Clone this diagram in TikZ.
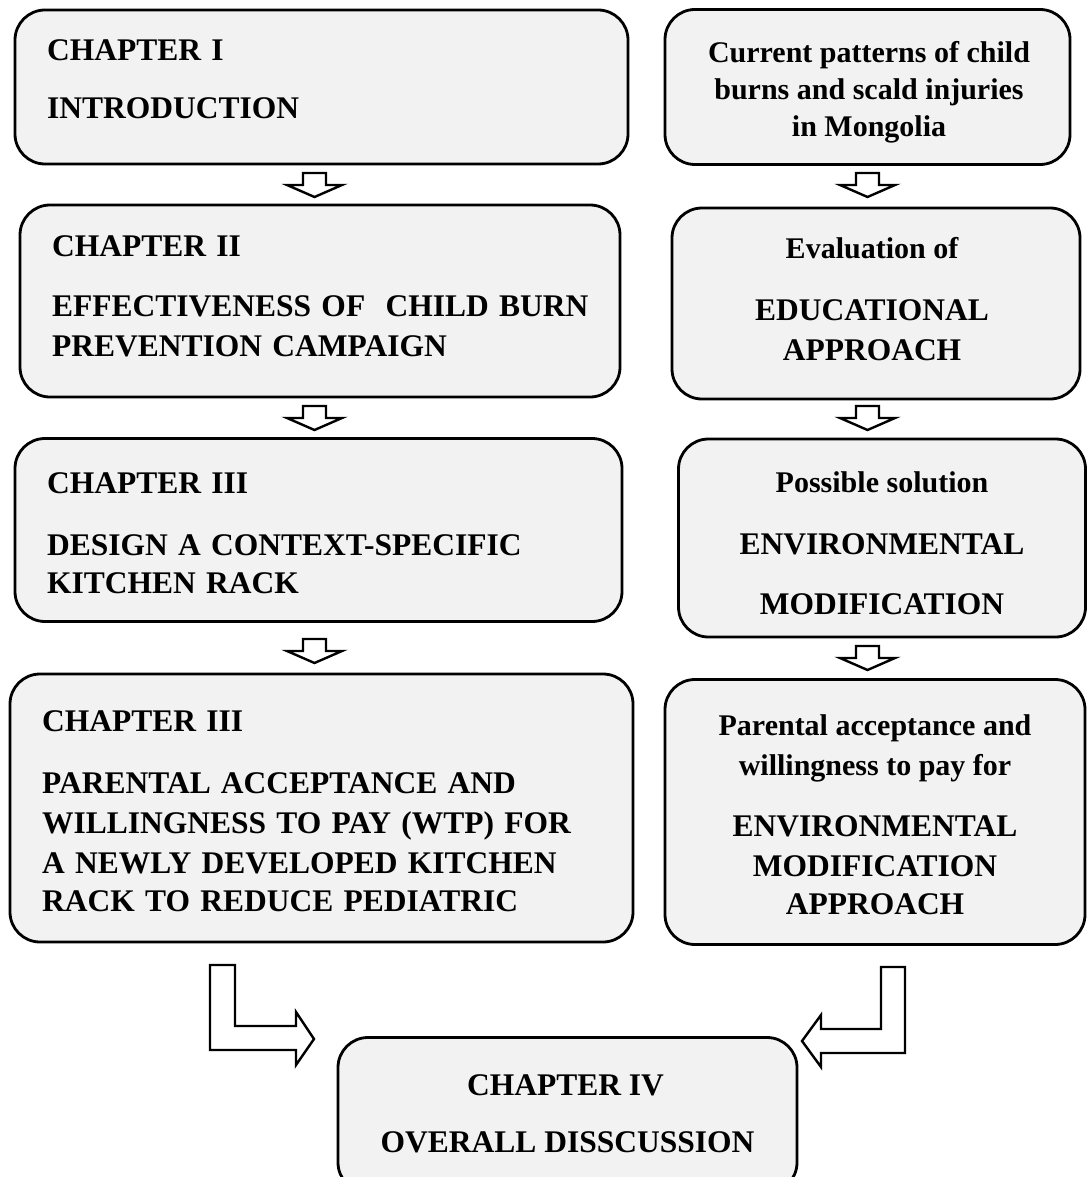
\documentclass[tikz,border=0pt]{standalone}
\usepackage{fontspec}
\setmainfont{Liberation Serif}
\newfontfamily\widefont[WordSpace=1.3]{Liberation Serif}
\usetikzlibrary{calc}
\definecolor{boxfill}{HTML}{F2F2F2}
\tikzset{
  box/.style={draw=black, line width=2.8pt, fill=boxfill, rounded corners=30pt, inner sep=0pt},
  txt/.style={inner sep=0pt, font=\fontsize{31.5}{38}\selectfont\bfseries},
  ltxt/.style={inner sep=0pt, font=\widefont\fontsize{31.5}{38}\selectfont\bfseries},
  rtxt/.style={inner sep=0pt, font=\fontsize{30}{36}\selectfont\bfseries},
  blockarr/.style={draw=black, line width=2.4pt, fill=white, line join=miter},
  downarr/.pic={\draw[blockarr] (-11.5,-24) -- (11.5,-24) -- (11.5,-12) -- (27.5,-12) -- (0,0) -- (-27.5,-12) -- (-11.5,-12) -- cycle;}
}
\begin{document}
\begin{tikzpicture}[x=1pt,y=-1pt]
\useasboundingbox[fill=white] (0,0) rectangle (1087,1177);
% left column boxes
\node[box, minimum width=613pt, minimum height=154pt] (b1) at (321.5,87) {};
\node[box, minimum width=600pt, minimum height=192pt] (b2) at (320,301) {};
\node[box, minimum width=607pt, minimum height=183pt] (b3) at (318.5,530) {};
\node[box, minimum width=623pt, minimum height=268pt] (b4) at (321.5,808) {};
% right column boxes
\node[box, minimum width=405pt, minimum height=155pt] (r1) at (867.5,87) {};
\node[box, minimum width=408pt, minimum height=191pt] (r2) at (876,303.5) {};
\node[box, minimum width=407pt, minimum height=198pt] (r3) at (882,538) {};
\node[box, minimum width=420pt, minimum height=265pt] (r4) at (875,812) {};
% bottom box
\node[box, minimum width=459pt, minimum height=155pt] (b5) at (567.5,1115) {};

% texts left
\node[ltxt, anchor=base west] (t11) at (47,61) {CHAPTER I};
\node[ltxt, anchor=base west] (t12) at (47,119) {INTRODUCTION};
\node[ltxt, anchor=base west] (t21) at (52,256) {CHAPTER II};
\node[ltxt, anchor=base west] (t22) at (52,316) {EFFECTIVENESS OF\ \ CHILD BURN};
\node[ltxt, anchor=base west] (t23) at (52,356) {PREVENTION CAMPAIGN};
\node[ltxt, anchor=base west] (t31) at (47,493) {CHAPTER III};
\node[ltxt, anchor=base west] (t32) at (47,555) {DESIGN A CONTEXT-SPECIFIC};
\node[ltxt, anchor=base west] (t33) at (47,593) {KITCHEN RACK};
\node[ltxt, anchor=base west] (t41) at (42,731) {CHAPTER III};
\node[ltxt, anchor=base west] (t42) at (42,793) {PARENTAL ACCEPTANCE AND};
\node[ltxt, anchor=base west] (t43) at (42,833) {WILLINGNESS TO PAY (WTP) FOR};
\node[ltxt, anchor=base west] (t44) at (42,873) {A NEWLY DEVELOPED KITCHEN};
\node[ltxt, anchor=base west] (t45) at (42,911) {RACK TO REDUCE PEDIATRIC};
% texts right
\node[rtxt, anchor=base] (s11) at (869,63) {Current patterns of child};
\node[rtxt, anchor=base] (s12) at (869,100) {burns and scald injuries};
\node[rtxt, anchor=base] (s13) at (869,137) {in Mongolia};
\node[rtxt, anchor=base] (s21) at (872,258) {Evaluation of};
\node[txt, anchor=base] (s22) at (872,320) {EDUCATIONAL};
\node[txt, anchor=base] (s23) at (872,360) {APPROACH};
\node[rtxt, anchor=base] (s31) at (882,492) {Possible solution};
\node[txt, anchor=base] (s32) at (882,554) {ENVIRONMENTAL};
\node[txt, anchor=base] (s33) at (882,614) {MODIFICATION};
\node[rtxt, anchor=base] (s41) at (875,735) {Parental acceptance and};
\node[rtxt, anchor=base] (s42) at (875,775) {willingness to pay for};
\node[txt, anchor=base] (s43) at (875,836) {ENVIRONMENTAL};
\node[txt, anchor=base] (s44) at (875,876) {MODIFICATION};
\node[txt, anchor=base] (s45) at (875,914) {APPROACH};
% bottom texts
\node[txt, anchor=base] (u1) at (565.5,1095) {CHAPTER IV};
\node[txt, anchor=base] (u2) at (567.5,1152) {OVERALL DISSCUSSION};

% small down arrows
\coordinate (a1) at (314.5,197);
\coordinate (a2) at (314.5,430);
\coordinate (a3) at (314.5,663);
\coordinate (c1) at (867.5,197);
\coordinate (c2) at (867.5,430);
\coordinate (c3) at (867.5,670);
\foreach \p in {a1,a2,a3,c1,c2,c3} {\pic at (\p) {downarr};}

% L-shaped block arrows into bottom box
\coordinate (ltip) at (314,1039);
\coordinate (rtip) at (802,1041);
\draw[blockarr] (210,965) -- (235,965) -- (235,1026) -- (296,1026) -- (296,1012) -- (ltip)
  -- (296,1065) -- (296,1050) -- (210,1050) -- cycle;
\draw[blockarr] (905,967) -- (881,967) -- (881,1029) -- (821,1029) -- (821,1015) -- (rtip)
  -- (821,1067) -- (821,1053) -- (905,1053) -- cycle;
\end{tikzpicture}
\end{document}
